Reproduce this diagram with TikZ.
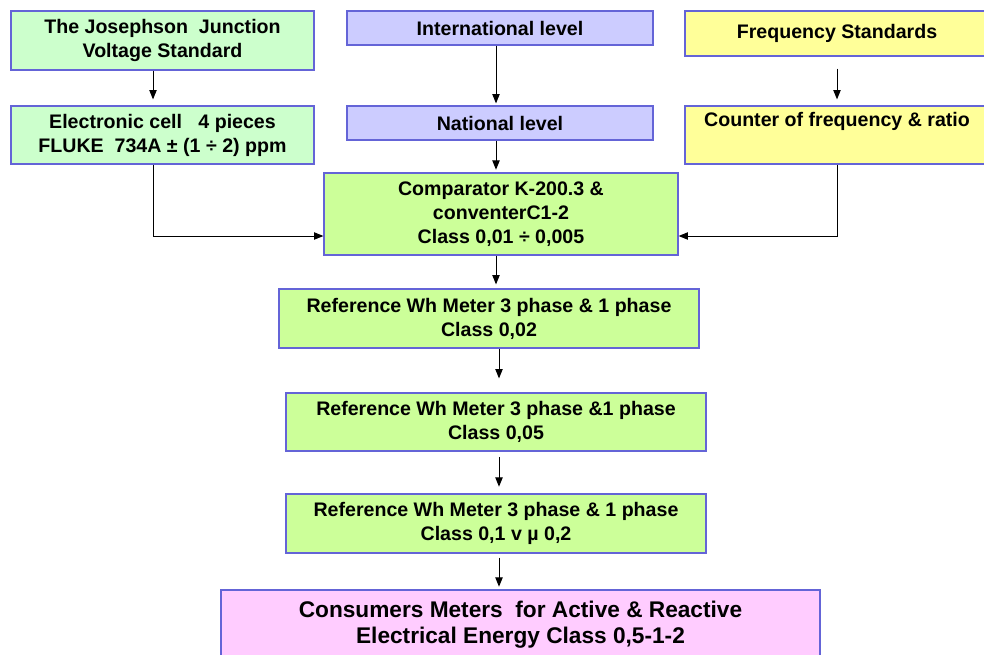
\documentclass[tikz,border=0pt]{standalone}
\usepackage{fontspec}
\setmainfont{Liberation Sans}
\usetikzlibrary{arrows.meta}
\definecolor{bordc}{RGB}{100,100,215}
\definecolor{mint}{RGB}{204,255,204}
\definecolor{lime}{RGB}{204,255,153}
\definecolor{lav}{RGB}{204,204,255}
\definecolor{yel}{RGB}{255,255,153}
\definecolor{pink}{RGB}{255,204,255}
\begin{document}
\begin{tikzpicture}[x=0.75pt,y=-0.75pt,
  box/.style={draw=bordc, line width=0.9pt, inner sep=0pt, align=center,
    font=\bfseries\fontsize{14.7}{18}\selectfont},
  bigbox/.style={box, font=\bfseries\fontsize{17}{19.5}\selectfont},
  arr/.style={line width=0.75pt, -{Triangle[length=7pt,width=5.5pt]}}]
\clip (0,0) rectangle (984,654);
\fill[white] (0,0) rectangle (984,654);
% top row
\node[box, fill=mint, minimum width=227.25pt, minimum height=44.25pt] (jos) at (162.5,40.5)
  {The Josephson\ \ Junction\\Voltage Standard};
\node[box, fill=mint, minimum width=227.25pt, minimum height=43.5pt] (elec) at (162.5,135)
  {Electronic cell\ \ \ 4 pieces\\FLUKE\ \ 734A ± (1 ÷ 2) ppm};
\node[box, fill=lav, minimum width=229.5pt, minimum height=25.5pt] (intl) at (500,28)
  {International level};
\node[box, fill=lav, minimum width=229.5pt, minimum height=25.5pt] (natl) at (500,123)
  {National level};
\node[box, fill=yel, minimum width=228pt, minimum height=33.75pt] (freq) at (837,33.5)
  {Frequency Standards};
\node[box, fill=yel, minimum width=228pt, minimum height=43.5pt] (cnt) at (837,135)
  {Counter of frequency \& ratio\\\strut};
% chain
\node[box, fill=lime, minimum width=265.5pt, minimum height=61.5pt] (comp) at (501,214)
  {Comparator K-200.3 \&\\conventerC1-2\\Class 0,01 ÷ 0,005};
\node[box, fill=lime, minimum width=315pt, minimum height=44.25pt] (ref1) at (489,318.5)
  {Reference Wh Meter 3 phase \& 1 phase\\Class 0,02};
\node[box, fill=lime, minimum width=315pt, minimum height=43.5pt] (ref2) at (496,422)
  {Reference Wh Meter 3 phase \&1 phase\\Class 0,05};
\node[box, fill=lime, minimum width=315pt, minimum height=44.25pt] (ref3) at (496,523.5)
  {Reference Wh Meter 3 phase \& 1 phase\\Class 0,1 v µ 0,2};
\node[bigbox, fill=pink, minimum width=449.25pt, minimum height=52.5pt] (cons) at (520.5,625)
  {Consumers Meters\ \ for Active \& Reactive\\Electrical Energy Class 0,5-1-2};
% connector helpers
\coordinate (xa) at (153,0);
\coordinate (xb) at (496,0);
\coordinate (xc) at (837,0);
\coordinate (xe) at (499,0);
\coordinate (yd) at (0,236);
% connectors
\draw[arr, shorten >=4.5pt] (jos.south -| xa) -- (elec.north -| xa);
\draw[arr, shorten >=1.5pt] (intl.south -| xb) -- (natl.north -| xb);
\draw[arr, shorten <=9pt, shorten >=4.5pt] (freq.south -| xc) -- (cnt.north -| xc);
\draw[arr, shorten >=2pt] (natl.south -| xb) -- (comp.north -| xb);
\draw[arr] (elec.south -| xa) |- (comp.west |- yd);
\draw[arr] (cnt.south -| xc) |- (comp.east |- yd);
\draw[arr, shorten >=3pt] (comp.south -| xb) -- (ref1.north -| xb);
\draw[arr, shorten >=10.5pt] (ref1.south -| xe) -- (ref2.north -| xe);
\draw[arr, shorten <=4pt, shorten >=5pt] (ref2.south -| xe) -- (ref3.north -| xe);
\draw[arr, shorten <=3pt, shorten >=2pt] (ref3.south -| xe) -- (cons.north -| xe);
\end{tikzpicture}
\end{document}
